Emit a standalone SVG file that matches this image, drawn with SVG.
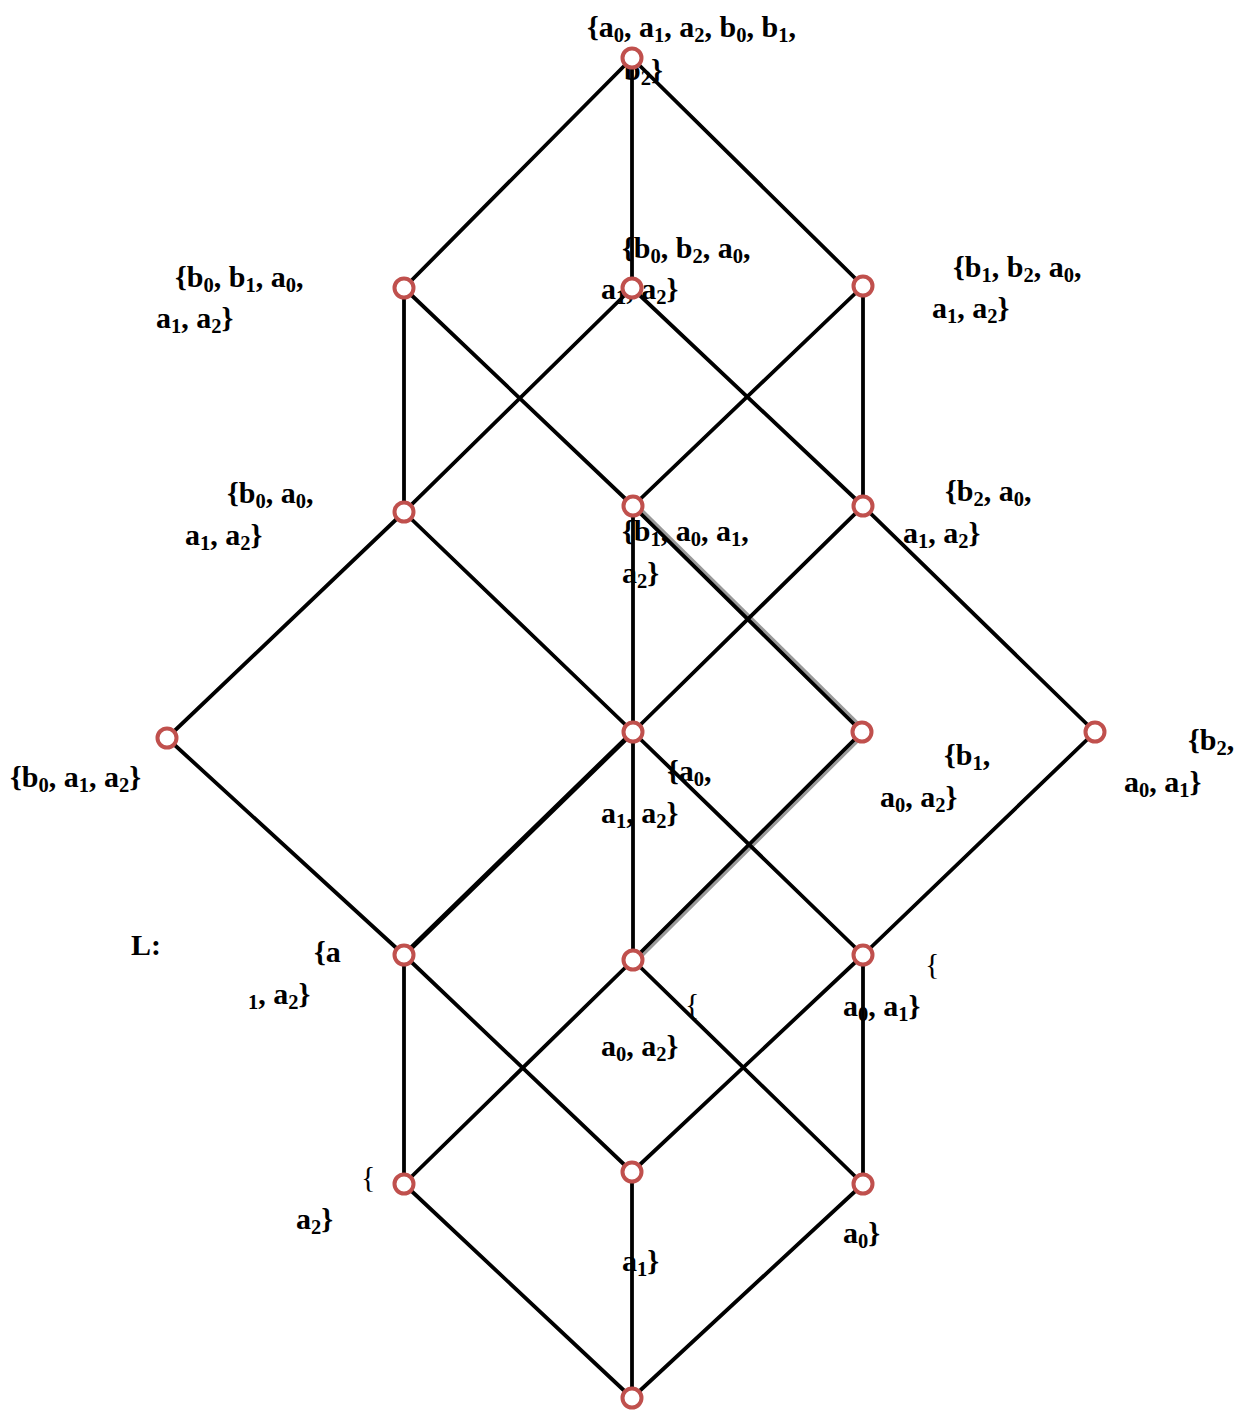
<svg xmlns="http://www.w3.org/2000/svg" width="1238" height="1410" viewBox="0 0 1238 1410">
<style>
.e{stroke:#000;stroke-width:3.8;fill:none;stroke-linecap:round}
.sh{stroke:#9a9a9a;stroke-width:4;fill:none}
.n{fill:#fff;stroke:#c0504d;stroke-width:4}
text{font-family:"Liberation Serif","Times New Roman",serif;font-size:30px;font-weight:bold;fill:#000}
.s{font-size:20.5px}
.br{font-weight:normal}
</style>
<rect width="1238" height="1410" fill="#fff"/>
<g id="connectors">
<line class="sh" x1="636" y1="505" x2="865" y2="731"/>
<line class="sh" x1="864" y1="734" x2="635" y2="962"/>
<line class="e" x1="632" y1="58" x2="404" y2="288"/>
<line class="e" x1="632" y1="58" x2="632" y2="288"/>
<line class="e" x1="632" y1="58" x2="863" y2="286"/>
<line class="e" x1="404" y1="288" x2="404" y2="512"/>
<line class="e" x1="404" y1="288" x2="633" y2="506"/>
<line class="e" x1="632" y1="288" x2="404" y2="512"/>
<line class="e" x1="632" y1="288" x2="863" y2="506"/>
<line class="e" x1="863" y1="286" x2="633" y2="506"/>
<line class="e" x1="863" y1="286" x2="863" y2="506"/>
<line class="e" x1="404" y1="512" x2="167" y2="738"/>
<line class="e" x1="404" y1="512" x2="633" y2="732"/>
<line class="e" x1="633" y1="506" x2="633" y2="732"/>
<line class="e" x1="633" y1="506" x2="862" y2="732"/>
<line class="e" x1="863" y1="506" x2="633" y2="732"/>
<line class="e" x1="863" y1="506" x2="1095" y2="732"/>
<line class="e" x1="167" y1="738" x2="404" y2="955"/>
<line class="e" x1="633" y1="732" x2="404" y2="955" style="stroke-width:5"/>
<line class="e" x1="633" y1="732" x2="633" y2="960"/>
<line class="e" x1="633" y1="732" x2="863" y2="955"/>
<line class="e" x1="862" y1="732" x2="633" y2="960"/>
<line class="e" x1="1095" y1="732" x2="863" y2="955"/>
<line class="e" x1="404" y1="955" x2="404" y2="1184"/>
<line class="e" x1="404" y1="955" x2="632" y2="1172"/>
<line class="e" x1="633" y1="960" x2="404" y2="1184"/>
<line class="e" x1="633" y1="960" x2="863" y2="1184"/>
<line class="e" x1="863" y1="955" x2="632" y2="1172"/>
<line class="e" x1="863" y1="955" x2="863" y2="1184"/>
<line class="e" x1="404" y1="1184" x2="632" y2="1398"/>
<line class="e" x1="632" y1="1172" x2="632" y2="1398"/>
<line class="e" x1="863" y1="1184" x2="632" y2="1398"/>
</g>
<g id="title"><text x="131" y="955">L:</text></g>
<g id="n-top">
<text x="587" y="37">{a<tspan class="s" dy="5">0</tspan><tspan dy="-5">, a</tspan><tspan class="s" dy="5">1</tspan><tspan dy="-5">, a</tspan><tspan class="s" dy="5">2</tspan><tspan dy="-5">, b</tspan><tspan class="s" dy="5">0</tspan><tspan dy="-5">, b</tspan><tspan class="s" dy="5">1</tspan><tspan dy="-5">,</tspan></text>
<text x="624" y="80">b<tspan class="s" dy="5">2</tspan><tspan dy="-5">}</tspan></text>
<circle class="n" cx="632" cy="58" r="9.5"/>
</g>
<g id="n-b0b1a0a1a2">
<text x="175" y="287">{b<tspan class="s" dy="5">0</tspan><tspan dy="-5">, b</tspan><tspan class="s" dy="5">1</tspan><tspan dy="-5">, a</tspan><tspan class="s" dy="5">0</tspan><tspan dy="-5">,</tspan></text>
<text x="156" y="328">a<tspan class="s" dy="5">1</tspan><tspan dy="-5">, a</tspan><tspan class="s" dy="5">2</tspan><tspan dy="-5">}</tspan></text>
<circle class="n" cx="404" cy="288" r="9.5"/>
</g>
<g id="n-b0b2a0a1a2">
<text x="622" y="258">{b<tspan class="s" dy="5">0</tspan><tspan dy="-5">, b</tspan><tspan class="s" dy="5">2</tspan><tspan dy="-5">, a</tspan><tspan class="s" dy="5">0</tspan><tspan dy="-5">,</tspan></text>
<text x="601" y="299">a<tspan class="s" dy="5">1</tspan><tspan dy="-5">, a</tspan><tspan class="s" dy="5">2</tspan><tspan dy="-5">}</tspan></text>
<circle class="n" cx="632" cy="288" r="9.5"/>
</g>
<g id="n-b1b2a0a1a2">
<text x="953" y="277">{b<tspan class="s" dy="5">1</tspan><tspan dy="-5">, b</tspan><tspan class="s" dy="5">2</tspan><tspan dy="-5">, a</tspan><tspan class="s" dy="5">0</tspan><tspan dy="-5">,</tspan></text>
<text x="932" y="318">a<tspan class="s" dy="5">1</tspan><tspan dy="-5">, a</tspan><tspan class="s" dy="5">2</tspan><tspan dy="-5">}</tspan></text>
<circle class="n" cx="863" cy="286" r="9.5"/>
</g>
<g id="n-b0a0a1a2">
<text x="227" y="503">{b<tspan class="s" dy="5">0</tspan><tspan dy="-5">, a</tspan><tspan class="s" dy="5">0</tspan><tspan dy="-5">,</tspan></text>
<text x="185" y="545">a<tspan class="s" dy="5">1</tspan><tspan dy="-5">, a</tspan><tspan class="s" dy="5">2</tspan><tspan dy="-5">}</tspan></text>
<circle class="n" cx="404" cy="512" r="9.5"/>
</g>
<g id="n-b1a0a1a2">
<text x="622" y="541">{b<tspan class="s" dy="5">1</tspan><tspan dy="-5">, a</tspan><tspan class="s" dy="5">0</tspan><tspan dy="-5">, a</tspan><tspan class="s" dy="5">1</tspan><tspan dy="-5">,</tspan></text>
<text x="622" y="583">a<tspan class="s" dy="5">2</tspan><tspan dy="-5">}</tspan></text>
<circle class="n" cx="633" cy="506" r="9.5"/>
</g>
<g id="n-b2a0a1a2">
<text x="945" y="501">{b<tspan class="s" dy="5">2</tspan><tspan dy="-5">, a</tspan><tspan class="s" dy="5">0</tspan><tspan dy="-5">,</tspan></text>
<text x="903" y="543">a<tspan class="s" dy="5">1</tspan><tspan dy="-5">, a</tspan><tspan class="s" dy="5">2</tspan><tspan dy="-5">}</tspan></text>
<circle class="n" cx="863" cy="506" r="9.5"/>
</g>
<g id="n-b0a1a2">
<text x="10" y="787">{b<tspan class="s" dy="5">0</tspan><tspan dy="-5">, a</tspan><tspan class="s" dy="5">1</tspan><tspan dy="-5">, a</tspan><tspan class="s" dy="5">2</tspan><tspan dy="-5">}</tspan></text>
<circle class="n" cx="167" cy="738" r="9.5"/>
</g>
<g id="n-a0a1a2">
<text x="667" y="781">{a<tspan class="s" dy="5">0</tspan><tspan dy="-5">,</tspan></text>
<text x="601" y="823">a<tspan class="s" dy="5">1</tspan><tspan dy="-5">, a</tspan><tspan class="s" dy="5">2</tspan><tspan dy="-5">}</tspan></text>
<circle class="n" cx="633" cy="732" r="9.5"/>
</g>
<g id="n-b1a0a2">
<text x="944" y="765">{b<tspan class="s" dy="5">1</tspan><tspan dy="-5">,</tspan></text>
<text x="880" y="807">a<tspan class="s" dy="5">0</tspan><tspan dy="-5">, a</tspan><tspan class="s" dy="5">2</tspan><tspan dy="-5">}</tspan></text>
<circle class="n" cx="862" cy="732" r="9.5"/>
</g>
<g id="n-b2a0a1">
<text x="1188" y="750">{b<tspan class="s" dy="5">2</tspan><tspan dy="-5">,</tspan></text>
<text x="1124" y="792">a<tspan class="s" dy="5">0</tspan><tspan dy="-5">, a</tspan><tspan class="s" dy="5">1</tspan><tspan dy="-5">}</tspan></text>
<circle class="n" cx="1095" cy="732" r="9.5"/>
</g>
<g id="n-a1a2">
<text x="314" y="962">{a</text>
<text x="248" y="1004"><tspan class="s" dy="5">1</tspan><tspan dy="-5">, a</tspan><tspan class="s" dy="5">2</tspan><tspan dy="-5">}</tspan></text>
<circle class="n" cx="404" cy="955" r="9.5"/>
</g>
<g id="n-a0a2">
<text class="br" x="685" y="1014">{</text>
<text x="601" y="1056">a<tspan class="s" dy="5">0</tspan><tspan dy="-5">, a</tspan><tspan class="s" dy="5">2</tspan><tspan dy="-5">}</tspan></text>
<circle class="n" cx="633" cy="960" r="9.5"/>
</g>
<g id="n-a0a1">
<text class="br" x="925" y="974">{</text>
<text x="843" y="1016">a<tspan class="s" dy="5">0</tspan><tspan dy="-5">, a</tspan><tspan class="s" dy="5">1</tspan><tspan dy="-5">}</tspan></text>
<circle class="n" cx="863" cy="955" r="9.5"/>
</g>
<g id="n-a2">
<text class="br" x="361" y="1187">{</text>
<text x="296" y="1229">a<tspan class="s" dy="5">2</tspan><tspan dy="-5">}</tspan></text>
<circle class="n" cx="404" cy="1184" r="9.5"/>
</g>
<g id="n-a1">
<text x="622" y="1271">a<tspan class="s" dy="5">1</tspan><tspan dy="-5">}</tspan></text>
<circle class="n" cx="632" cy="1172" r="9.5"/>
</g>
<g id="n-a0">
<text x="843" y="1243">a<tspan class="s" dy="5">0</tspan><tspan dy="-5">}</tspan></text>
<circle class="n" cx="863" cy="1184" r="9.5"/>
</g>
<g id="n-empty">
<circle class="n" cx="632" cy="1398" r="9.5"/>
</g>
</svg>
